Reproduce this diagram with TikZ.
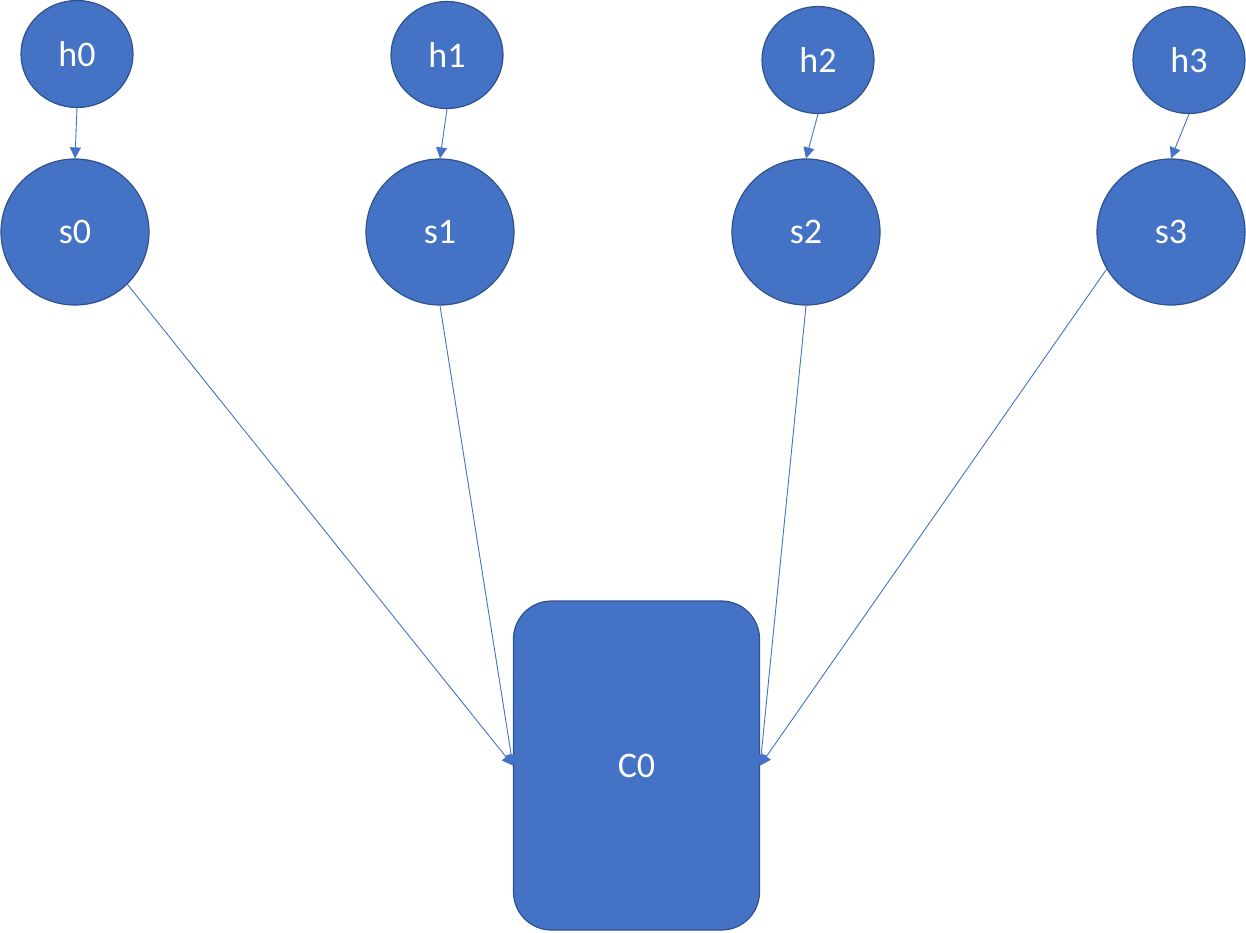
\documentclass[tikz,border=0pt]{standalone}
\usepackage{fontspec}
\setmainfont{Carlito}
\usetikzlibrary{shapes.geometric,arrows.meta}
\definecolor{nodefill}{HTML}{4472C4}
\definecolor{nodeedge}{HTML}{2F528F}
\begin{document}
\begin{tikzpicture}[x=1pt,y=-1pt,
  base/.style={fill=nodefill,draw=nodeedge,line width=1.2pt,text=white,
    font=\fontsize{36}{42}\selectfont,inner sep=0pt},
  hnode/.style={base,ellipse,minimum width=112pt,minimum height=107pt},
  snode/.style={base,ellipse,minimum width=148pt,minimum height=146pt},
  cbox/.style={base,rounded corners=38pt,minimum width=246pt,minimum height=329pt},
  link/.style={draw=nodefill,line width=0.9pt,-{Triangle[length=11pt,width=11pt]}}]
\useasboundingbox (0,0) rectangle (1246,932);
% hidden-state nodes
\node[hnode] (h0) at (77,54) {h0};
\node[hnode] (h1) at (447,55) {h1};
\node[hnode] (h2) at (818,60) {h2};
\node[hnode] (h3) at (1189,60) {h3};
% state nodes
\node[snode] (s0) at (75,232) {s0};
\node[snode] (s1) at (440,232) {s1};
\node[snode] (s2) at (806,232) {s2};
\node[snode] (s3) at (1171,232) {s3};
% context block
\node[cbox] (c0) at (636.5,765.5) {C0};
% connectors
\draw[link] (h0.south) -- (s0.north);
\draw[link] (h1.south) -- (s1.north);
\draw[link] (h2.south) -- (s2.north);
\draw[link] (h3.south) -- (s3.north);
\draw[link] (s0.-45) -- (c0.west);
\draw[link] (s1.south) -- (c0.west);
\draw[link] (s2.south) -- (c0.east);
\draw[link] (s3.210) -- (c0.east);
\end{tikzpicture}
\end{document}
